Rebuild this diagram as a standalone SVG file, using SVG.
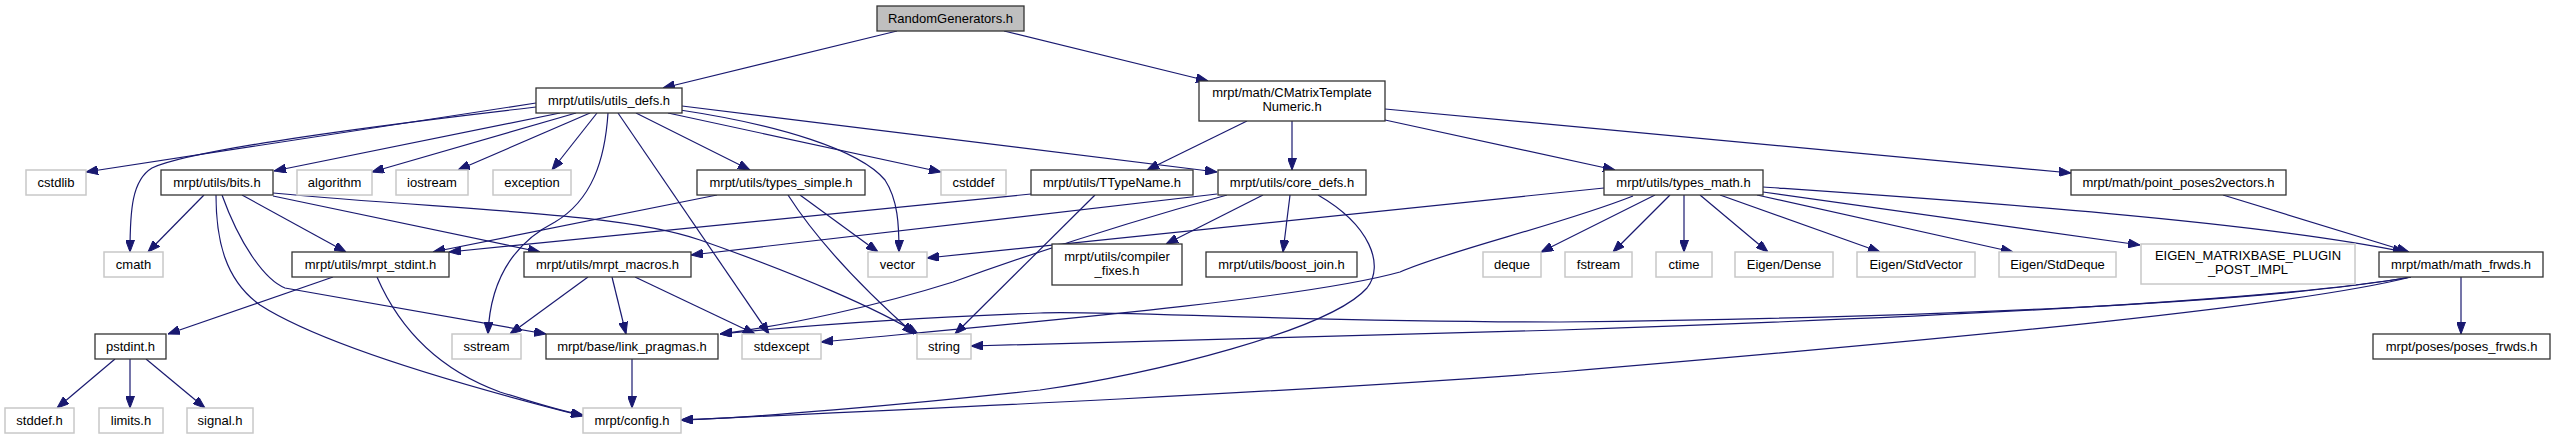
<svg xmlns="http://www.w3.org/2000/svg" width="2555" height="440" viewBox="0 0 2555 440">
<style>
text{font-family:"Liberation Sans",Arial,sans-serif;font-size:13px;fill:#000;text-anchor:middle}
.d rect{fill:#fff;stroke:#333;stroke-width:1.3}
.r rect{fill:#bfbfbf;stroke:#333;stroke-width:1.3}
.x rect{fill:#fff;stroke:#c8c8c8;stroke-width:1.5}
#edges path{fill:none;stroke:#191970;stroke-width:1.2;marker-end:url(#ah)}
</style>
<defs>
<marker id="ah" markerUnits="userSpaceOnUse" viewBox="0 0 12 9" refX="12" refY="4.5" markerWidth="12" markerHeight="9" orient="auto">
<path d="M0,0 L12,4.5 L0,9 z" fill="#191970" stroke="#191970"/>
</marker>
</defs>
<rect width="2555" height="440" fill="#fff"/>
<g id="edges">
<path d="M897,31 L663,88"/>
<path d="M1004,31 L1208,81"/>
<path d="M536,103 L86,172"/>
<path d="M536,107 C380,125 190,150 152,168 C132,180 130,210 130,252"/>
<path d="M560,113 L274,171"/>
<path d="M576,113 L372,172"/>
<path d="M590,113 L458,170"/>
<path d="M597,113 L552,170"/>
<path d="M608,113 C605,160 592,200 555,222 C510,245 490,285 488,334"/>
<path d="M618,113 L769,334"/>
<path d="M636,113 L750,170"/>
<path d="M668,113 L941,172"/>
<path d="M680,110 C780,125 860,150 885,180 C898,200 899,225 899,252"/>
<path d="M682,106 L1217,172"/>
<path d="M1247,121 L1147,170"/>
<path d="M1292,121 L1292,170"/>
<path d="M1385,120 L1615,170"/>
<path d="M1385,109 L2071,173"/>
<path d="M204,195 L148,252"/>
<path d="M216,195 C216,240 225,280 260,305 C330,350 500,395 583,416"/>
<path d="M222,195 C240,245 265,280 285,288 L546,334"/>
<path d="M242,195 L346,252"/>
<path d="M273,196 L540,252"/>
<path d="M273,193 C450,210 620,212 700,240 C800,275 880,310 918,334"/>
<path d="M333,277 L168,334"/>
<path d="M377,277 C400,330 440,370 500,392 C540,404 560,411 583,415"/>
<path d="M115,359 L57,408"/>
<path d="M130,359 L130,408"/>
<path d="M146,359 L205,408"/>
<path d="M717,195 L433,252"/>
<path d="M800,195 L878,252"/>
<path d="M788,195 C820,245 870,295 914,334"/>
<path d="M1031,194 L449,252"/>
<path d="M1095,195 L955,334"/>
<path d="M588,277 L510,334"/>
<path d="M612,277 L626,334"/>
<path d="M635,277 L755,334"/>
<path d="M632,359 L632,408"/>
<path d="M1217,194 L691,255"/>
<path d="M1263,195 L1166,244"/>
<path d="M1290,195 L1283,252"/>
<path d="M1318,195 C1370,225 1385,265 1367,288 C1330,330 1150,375 1040,390 C900,405 750,418 681,420"/>
<path d="M1227,195 C1100,230 1000,265 953,282 C880,305 790,325 720,334"/>
<path d="M1604,188 L927,258"/>
<path d="M1633,196 C1560,225 1450,250 1400,272 C1300,300 1000,325 821,342"/>
<path d="M1655,195 L1541,252"/>
<path d="M1670,195 L1613,252"/>
<path d="M1684,195 L1684,252"/>
<path d="M1700,195 L1768,252"/>
<path d="M1720,195 L1880,252"/>
<path d="M1757,195 L2013,252"/>
<path d="M1763,192 L2140,245"/>
<path d="M1763,187 C1950,200 2250,220 2405,252"/>
<path d="M2223,195 L2409,252"/>
<path d="M2461,277 L2461,334"/>
<path d="M2411,277 C2250,305 1900,318 1560,322 C1300,322 1100,310 1040,313 C900,318 780,328 720,334"/>
<path d="M2411,277 C2250,305 1800,322 1560,330 C1300,338 1100,343 971,346"/>
<path d="M2411,277 C2300,305 2000,335 1560,372 C1300,392 900,410 681,420"/>
</g>
<g id="n_random" class="r"><rect x="877" y="6" width="147" height="25"/><text x="950.5" y="23">RandomGenerators.h</text></g>
<g id="n_utils_defs" class="d"><rect x="536" y="88" width="146" height="25"/><text x="609" y="105">mrpt/utils/utils_defs.h</text></g>
<g id="n_cmatrix" class="d"><rect x="1199" y="81" width="186" height="40"/><text x="1292" y="97">mrpt/math/CMatrixTemplate</text><text x="1292" y="111">Numeric.h</text></g>
<g id="n_cstdlib" class="x"><rect x="26" y="170" width="60" height="25"/><text x="56" y="187">cstdlib</text></g>
<g id="n_bits" class="d"><rect x="161" y="170" width="112" height="25"/><text x="217" y="187">mrpt/utils/bits.h</text></g>
<g id="n_algorithm" class="x"><rect x="297" y="170" width="75" height="25"/><text x="334.5" y="187">algorithm</text></g>
<g id="n_iostream" class="x"><rect x="396" y="170" width="72" height="25"/><text x="432" y="187">iostream</text></g>
<g id="n_exception" class="x"><rect x="493" y="170" width="78" height="25"/><text x="532" y="187">exception</text></g>
<g id="n_types_simple" class="d"><rect x="697" y="170" width="168" height="25"/><text x="781" y="187">mrpt/utils/types_simple.h</text></g>
<g id="n_cstddef" class="x"><rect x="941" y="170" width="65" height="25"/><text x="973.5" y="187">cstddef</text></g>
<g id="n_ttypename" class="d"><rect x="1031" y="170" width="162" height="25"/><text x="1112" y="187">mrpt/utils/TTypeName.h</text></g>
<g id="n_core_defs" class="d"><rect x="1218" y="170" width="148" height="25"/><text x="1292" y="187">mrpt/utils/core_defs.h</text></g>
<g id="n_types_math" class="d"><rect x="1604" y="170" width="159" height="25"/><text x="1683.5" y="187">mrpt/utils/types_math.h</text></g>
<g id="n_point_poses" class="d"><rect x="2071" y="170" width="215" height="25"/><text x="2178.5" y="187">mrpt/math/point_poses2vectors.h</text></g>
<g id="n_cmath" class="x"><rect x="104" y="252" width="59" height="25"/><text x="133.5" y="269">cmath</text></g>
<g id="n_stdint" class="d"><rect x="292" y="252" width="157" height="25"/><text x="370.5" y="269">mrpt/utils/mrpt_stdint.h</text></g>
<g id="n_macros" class="d"><rect x="524" y="252" width="167" height="25"/><text x="607.5" y="269">mrpt/utils/mrpt_macros.h</text></g>
<g id="n_vector" class="x"><rect x="868" y="252" width="59" height="25"/><text x="897.5" y="269">vector</text></g>
<g id="n_compiler" class="d"><rect x="1052" y="244" width="130" height="41"/><text x="1117" y="261">mrpt/utils/compiler</text><text x="1117" y="275">_fixes.h</text></g>
<g id="n_boost_join" class="d"><rect x="1206" y="252" width="151" height="25"/><text x="1281.5" y="269">mrpt/utils/boost_join.h</text></g>
<g id="n_deque" class="x"><rect x="1483" y="252" width="58" height="25"/><text x="1512" y="269">deque</text></g>
<g id="n_fstream" class="x"><rect x="1565" y="252" width="67" height="25"/><text x="1598.5" y="269">fstream</text></g>
<g id="n_ctime" class="x"><rect x="1656" y="252" width="56" height="25"/><text x="1684" y="269">ctime</text></g>
<g id="n_dense" class="x"><rect x="1735" y="252" width="98" height="25"/><text x="1784" y="269">Eigen/Dense</text></g>
<g id="n_stdvector" class="x"><rect x="1857" y="252" width="118" height="25"/><text x="1916" y="269">Eigen/StdVector</text></g>
<g id="n_stddeque" class="x"><rect x="1999" y="252" width="117" height="25"/><text x="2057.5" y="269">Eigen/StdDeque</text></g>
<g id="n_eigen_plugin" class="x"><rect x="2141" y="244" width="214" height="40"/><text x="2248" y="260">EIGEN_MATRIXBASE_PLUGIN</text><text x="2248" y="274">_POST_IMPL</text></g>
<g id="n_math_frwds" class="d"><rect x="2379" y="252" width="164" height="25"/><text x="2461" y="269">mrpt/math/math_frwds.h</text></g>
<g id="n_pstdint" class="d"><rect x="95" y="334" width="71" height="25"/><text x="130.5" y="351">pstdint.h</text></g>
<g id="n_sstream" class="x"><rect x="452" y="334" width="69" height="25"/><text x="486.5" y="351">sstream</text></g>
<g id="n_link_pragmas" class="d"><rect x="546" y="334" width="172" height="25"/><text x="632" y="351">mrpt/base/link_pragmas.h</text></g>
<g id="n_stdexcept" class="x"><rect x="742" y="334" width="79" height="25"/><text x="781.5" y="351">stdexcept</text></g>
<g id="n_string" class="x"><rect x="917" y="334" width="54" height="25"/><text x="944" y="351">string</text></g>
<g id="n_poses_frwds" class="d"><rect x="2373" y="334" width="177" height="25"/><text x="2461.5" y="351">mrpt/poses/poses_frwds.h</text></g>
<g id="n_stddef" class="x"><rect x="5" y="408" width="69" height="25"/><text x="39.5" y="425">stddef.h</text></g>
<g id="n_limits" class="x"><rect x="99" y="408" width="64" height="25"/><text x="131" y="425">limits.h</text></g>
<g id="n_signal" class="x"><rect x="187" y="408" width="66" height="25"/><text x="220" y="425">signal.h</text></g>
<g id="n_config" class="x"><rect x="583" y="408" width="98" height="25"/><text x="632" y="425">mrpt/config.h</text></g>
</svg>
